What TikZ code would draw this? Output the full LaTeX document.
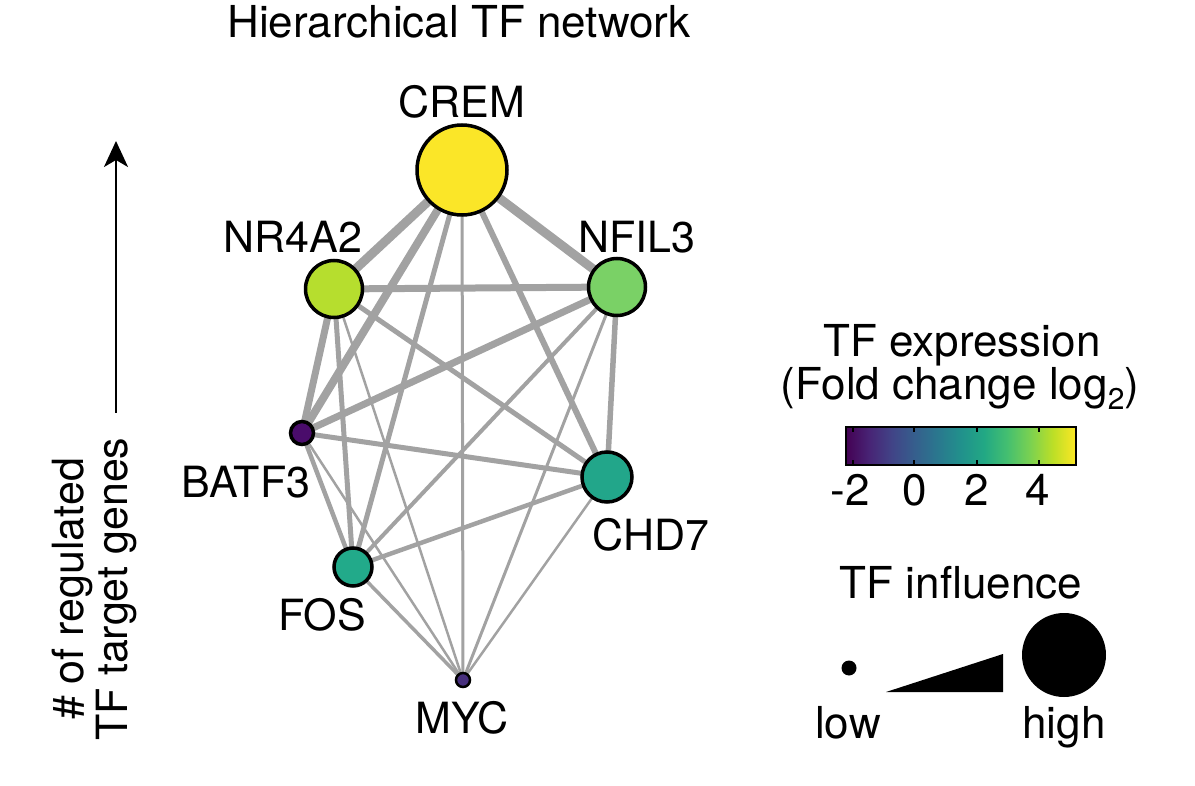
\documentclass[tikz,border=0pt]{standalone}
\usepackage{fontspec}
\setmainfont{TeX Gyre Heros}
\usetikzlibrary{arrows.meta,backgrounds}
\definecolor{vir0}{HTML}{440154}
\definecolor{vir1}{HTML}{482475}
\definecolor{vir2}{HTML}{414487}
\definecolor{vir3}{HTML}{355F8D}
\definecolor{vir4}{HTML}{2A788E}
\definecolor{vir5}{HTML}{21918C}
\definecolor{vir6}{HTML}{22A884}
\definecolor{vir7}{HTML}{44BF70}
\definecolor{vir8}{HTML}{7AD151}
\definecolor{vir9}{HTML}{BDDF26}
\definecolor{vir10}{HTML}{FDE725}
\definecolor{cCREM}{HTML}{FBE628}
\definecolor{cNR}{HTML}{B6DE2E}
\definecolor{cNF}{HTML}{7AD166}
\definecolor{cCHD}{HTML}{22A68A}
\definecolor{cFOS}{HTML}{22AA8A}
\definecolor{cBATF}{HTML}{4A0C6B}
\definecolor{cMYC}{HTML}{472F7D}
\definecolor{edgegray}{HTML}{A2A2A2}
\pgfdeclarehorizontalshading{viridis}{100bp}{
 color(0bp)=(vir0); color(25bp)=(vir0); color(30bp)=(vir1); color(35bp)=(vir2);
 color(40bp)=(vir3); color(45bp)=(vir4); color(50bp)=(vir5); color(55bp)=(vir6);
 color(60bp)=(vir7); color(65bp)=(vir8); color(70bp)=(vir9); color(75bp)=(vir10);
 color(100bp)=(vir10)}
\tikzset{
 tfnode/.style={circle, draw=black, line width=3.5, inner sep=0},
 lbl/.style={font=\fontsize{43}{45}\selectfont, anchor=base, inner sep=0},
 leg/.style={font=\fontsize{44}{46}\selectfont, anchor=base, inner sep=0},
 edge/.style={draw=edgegray, line cap=butt},
}
\begin{document}
\begin{tikzpicture}[x=1pt,y=-1pt]
\useasboundingbox (0,0) rectangle (1195,786);
% nodes
\node[tfnode, minimum size=90, fill=cCREM] (crem) at (462,170) {};
\node[tfnode, minimum size=57, fill=cNR] (nr4a2) at (334,289) {};
\node[tfnode, minimum size=57, fill=cNF] (nfil3) at (617,287) {};
\node[tfnode, minimum size=23, fill=cBATF] (batf3) at (302,433) {};
\node[tfnode, minimum size=50, fill=cCHD] (chd7) at (607,477) {};
\node[tfnode, minimum size=38, fill=cFOS] (fos) at (353,567) {};
\node[tfnode, minimum size=14, line width=2.5, fill=cMYC] (myc) at (463,680) {};
% edges
\begin{scope}[on background layer]
\draw[edge, line width=9] (crem.center) -- (nr4a2.center);
\draw[edge, line width=9] (crem.center) -- (nfil3.center);
\draw[edge, line width=8] (crem.center) -- (batf3.center);
\draw[edge, line width=5] (crem.center) -- (fos.center);
\draw[edge, line width=3] (crem.center) -- (myc.center);
\draw[edge, line width=6] (crem.center) -- (chd7.center);
\draw[edge, line width=7] (nr4a2.center) -- (nfil3.center);
\draw[edge, line width=7] (nr4a2.center) -- (batf3.center);
\draw[edge, line width=5] (nr4a2.center) -- (fos.center);
\draw[edge, line width=2.5] (nr4a2.center) -- (myc.center);
\draw[edge, line width=5] (nr4a2.center) -- (chd7.center);
\draw[edge, line width=7] (nfil3.center) -- (batf3.center);
\draw[edge, line width=4] (nfil3.center) -- (fos.center);
\draw[edge, line width=3] (nfil3.center) -- (myc.center);
\draw[edge, line width=5.5] (nfil3.center) -- (chd7.center);
\draw[edge, line width=5] (batf3.center) -- (chd7.center);
\draw[edge, line width=4.5] (batf3.center) -- (fos.center);
\draw[edge, line width=2.5] (batf3.center) -- (myc.center);
\draw[edge, line width=4.5] (chd7.center) -- (fos.center);
\draw[edge, line width=2.5] (chd7.center) -- (myc.center);
\draw[edge, line width=3.5] (fos.center) -- (myc.center);
\end{scope}
% labels
\node[leg] (title) at (459,38) {Hierarchical TF network};
\node[lbl] (lcrem) at (462,118) {CREM};
\node[lbl] (lnr) at (293,253) {NR4A2};
\node[lbl] (lnf) at (637,253) {NFIL3};
\node[lbl] (lbatf) at (246,497) {BATF3};
\node[lbl] (lchd) at (651,550) {CHD7};
\node[lbl] (lfos) at (322,630) {FOS};
\node[lbl] (lmyc) at (462,733) {MYC};
% axis
\coordinate (axbot) at (116,413);
\coordinate (axtop) at (116,141);
\draw[line width=2.5, -{Stealth[length=26, width=24, inset=7]}] (axbot) -- (axtop);
\node[lbl, rotate=90] (ax1) at (83,589) {\# of regulated};
\node[lbl, rotate=90] (ax2) at (127,589) {TF target genes};
% legend: expression
\node[leg] (lexp) at (962,357) {TF expression};
\node[leg] (lfold) at (960,400) {(Fold change log\raisebox{-0.22em}{\fontsize{30}{30}\selectfont 2})};
\path[shading=viridis] (846,427) rectangle (1076,465);
\draw[line width=2.5] (846,427) rectangle (1076,465);
\foreach \tx in {853,914,977,1039}{
 \draw[line width=2] (\tx,427) -- (\tx,432);
 \draw[line width=2] (\tx,465) -- (\tx,460);
}
\node[leg] (tm2) at (850,505) {-2};
\node[leg] (t0) at (915,505) {0};
\node[leg] (t2) at (977,505) {2};
\node[leg] (t4) at (1038,505) {4};
% legend: influence
\node[leg] (linf) at (961,598) {TF influence};
\fill[black] (849,668) circle (7.5);
\fill[black] (886,692) -- (1003,692) -- (1003,654) -- cycle;
\fill[black] (1064,655) circle (42);
\node[leg] (llow) at (848,738) {low};
\node[leg] (lhigh) at (1064,738) {high};
\end{tikzpicture}
\end{document}
